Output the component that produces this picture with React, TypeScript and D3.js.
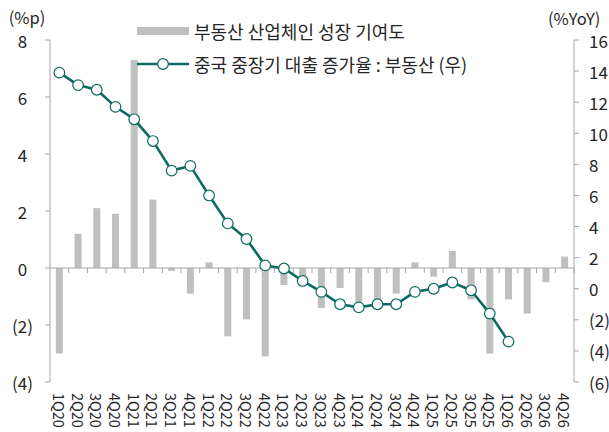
import React from 'react'
import * as d3 from 'd3'

// 분기 라벨
const categories = [
  '1Q20', '2Q20', '3Q20', '4Q20',
  '1Q21', '2Q21', '3Q21', '4Q21',
  '1Q22', '2Q22', '3Q22', '4Q22',
  '1Q23', '2Q23', '3Q23', '4Q23',
  '1Q24', '2Q24', '3Q24', '4Q24',
  '1Q25', '2Q25', '3Q25', '4Q25',
  '1Q26', '2Q26', '3Q26', '4Q26',
]

// 부동산 산업체인 성장 기여도 (%p, 좌)
const contribution = [
  -3.0, 1.2, 2.1, 1.9,
  7.3, 2.4, -0.1, -0.9,
  0.2, -2.4, -1.8, -3.1,
  -0.6, -0.4, -1.4, -0.7,
  -1.2, -1.3, -0.9, 0.2,
  -0.3, 0.6, -1.1, -3.0,
  -1.1, -1.6, -0.5, 0.4,
]

// 중국 중장기 대출 증가율 : 부동산 (%YoY, 우)
const loanGrowth = [
  13.9, 13.1, 12.8, 11.7,
  10.9, 9.5, 7.6, 7.9,
  6.0, 4.2, 3.2, 1.5,
  1.3, 0.5, -0.2, -1.0,
  -1.2, -1.0, -1.0, -0.2,
  0.0, 0.4, -0.1, -1.6,
  -3.4,
]

const leftTicks = [-4, -2, 0, 2, 4, 6, 8]
const rightTicks = [-6, -4, -2, 0, 2, 4, 6, 8, 10, 12, 14, 16]

const legendBar = '부동산 산업체인 성장 기여도'
const legendLine = '중국 중장기 대출 증가율 : 부동산 (우)'

const W = 609
const H = 432
const FONT = '"Noto Sans CJK KR", "Noto Sans", sans-serif'
const TEAL = '#0b6b60'
const GREY = '#bfbfbf'
const AXIS = '#a6a6a6'
const TEXT = '#262626'

const fmt = (v: number) => (v < 0 ? `(${-v})` : `${v}`)

export default function App() {
  const plot = { left: 50, right: 574, top: 40, bottom: 382 }

  const x = d3.scaleBand<string>()
    .domain(categories)
    .range([plot.left, plot.right])
    .padding(0)

  const yL = d3.scaleLinear().domain([-4, 8]).range([plot.bottom, plot.top])
  const yR = d3.scaleLinear().domain([-6, 16]).range([plot.bottom, plot.top])

  const barW = 7
  const cx = (i: number) => (x(categories[i]) as number) + x.bandwidth() / 2

  const line = d3.line<number>()
    .x((_, i) => cx(i))
    .y(d => yR(d))

  const zeroY = yL(0)

  return (
    <svg width={W} height={H} style={{ position: 'absolute', left: 0, top: 0, fontFamily: FONT }}>
      <rect width={W} height={H} fill="#fff" />

      {/* bars */}
      {contribution.map((v, i) => (
        <rect
          key={'b' + i}
          x={cx(i) - barW / 2}
          y={Math.min(yL(v), zeroY)}
          width={barW}
          height={Math.abs(yL(v) - zeroY)}
          fill={GREY}
        />
      ))}

      {/* left axis */}
      <line x1={plot.left} x2={plot.left} y1={plot.top} y2={plot.bottom} stroke={AXIS} />
      {leftTicks.map(t => (
        <g key={'l' + t}>
          <line x1={plot.left - 5} x2={plot.left} y1={yL(t)} y2={yL(t)} stroke={AXIS} />
          <text x={22.5} y={yL(t)} textAnchor="middle" dominantBaseline="central" fontSize={17} fill={TEXT}>
            {fmt(t)}
          </text>
        </g>
      ))}
      <text x={27} y={17} textAnchor="middle" dominantBaseline="central" fontSize={16.5} fill={TEXT}>(%p)</text>

      {/* right axis */}
      <line x1={plot.right} x2={plot.right} y1={plot.top} y2={plot.bottom} stroke={AXIS} />
      {rightTicks.map(t => (
        <g key={'r' + t}>
          <line x1={plot.right} x2={plot.right + 5} y1={yR(t)} y2={yR(t)} stroke={AXIS} />
          <text x={589} y={yR(t)} dominantBaseline="central" fontSize={17} fill={TEXT}>
            {fmt(t)}
          </text>
        </g>
      ))}
      <text x={548} y={18} dominantBaseline="central" fontSize={16.5} fill={TEXT}>(%YoY)</text>

      {/* category axis on zero line */}
      <line x1={plot.left} x2={plot.right} y1={zeroY} y2={zeroY} stroke={AXIS} />
      {categories.map(c => (
        <line
          key={'t' + c}
          x1={(x(c) as number) + x.bandwidth()}
          x2={(x(c) as number) + x.bandwidth()}
          y1={zeroY}
          y2={zeroY + 5}
          stroke={AXIS}
        />
      ))}
      {categories.map((c, i) => (
        <text
          key={'c' + c}
          transform={`translate(${cx(i)},393) rotate(90)`}
          dominantBaseline="central"
          fontSize={14.5}
          fill={TEXT}
        >
          {c}
        </text>
      ))}

      {/* line series */}
      <path d={line(loanGrowth) || ''} fill="none" stroke={TEAL} strokeWidth={2.6} />
      {loanGrowth.map((v, i) => (
        <circle key={'m' + i} cx={cx(i)} cy={yR(v)} r={5.3} fill="#fff" stroke={TEAL} strokeWidth={1.2} />
      ))}

      {/* legend */}
      <rect x={137} y={27} width={52} height={8} fill={GREY} />
      <text x={194} y={31} dominantBaseline="central" fontSize={18} fill={TEXT}>{legendBar}</text>
      <line x1={137} x2={189} y1={64} y2={64} stroke={TEAL} strokeWidth={2.6} />
      <circle cx={163} cy={64} r={5.3} fill="#fff" stroke={TEAL} strokeWidth={1.2} />
      <text x={194} y={64} dominantBaseline="central" fontSize={18} fill={TEXT}>{legendLine}</text>
    </svg>
  )
}
